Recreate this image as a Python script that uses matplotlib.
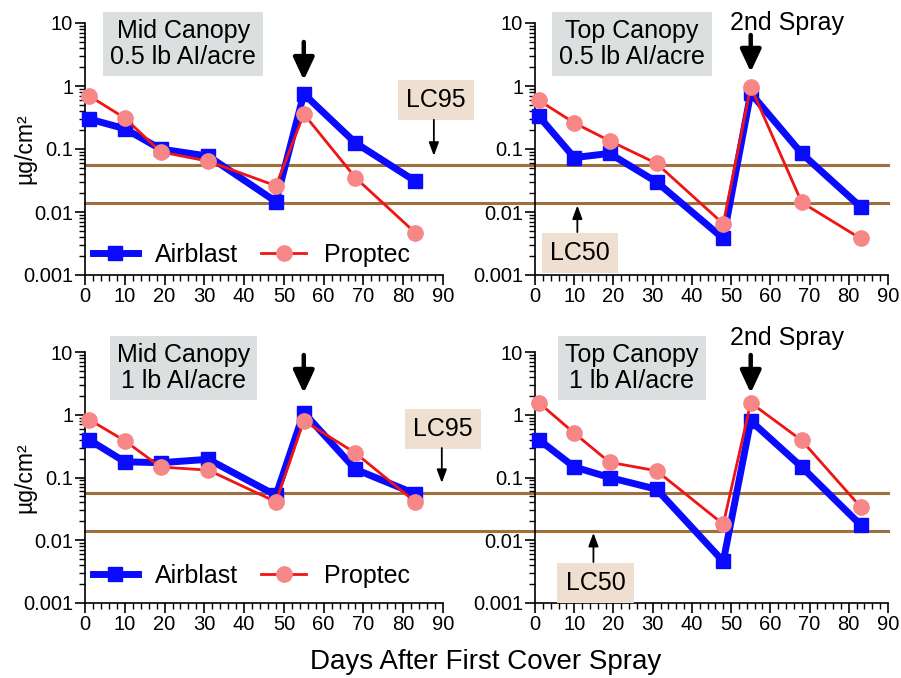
import numpy as np
import matplotlib
matplotlib.use("Agg")
import matplotlib.pyplot as plt
from matplotlib.ticker import FixedLocator, MultipleLocator, LogLocator, NullFormatter

plt.rcParams["font.family"] = ["Liberation Sans", "DejaVu Sans"]

# days after first cover spray
days = [1, 10, 19, 31, 48, 55, 68, 83]

# residues (ug/cm2) per panel
mid_05_airblast = [0.30, 0.21, 0.10, 0.077, 0.0146, 0.75, 0.125, 0.031]
mid_05_proptec = [0.70, 0.31, 0.090, 0.064, 0.026, 0.36, 0.035, 0.0047]
top_05_airblast = [0.33, 0.073, 0.085, 0.030, 0.0038, 0.77, 0.085, 0.0121]
top_05_proptec = [0.59, 0.26, 0.135, 0.059, 0.0065, 0.97, 0.0142, 0.0038]
mid_1_airblast = [0.40, 0.178, 0.172, 0.195, 0.052, 1.08, 0.135, 0.055]
mid_1_proptec = [0.84, 0.385, 0.147, 0.131, 0.041, 0.80, 0.245, 0.041]
top_1_airblast = [0.40, 0.147, 0.100, 0.065, 0.0046, 0.80, 0.147, 0.0176]
top_1_proptec = [1.55, 0.51, 0.175, 0.128, 0.0180, 1.55, 0.39, 0.0340]

lc95 = 0.056
lc50 = 0.0140

panel_titles = ["Mid Canopy\n0.5 lb AI/acre", "Top Canopy\n0.5 lb AI/acre",
                "Mid Canopy\n1 lb AI/acre", "Top Canopy\n1 lb AI/acre"]

blue = "#0a0aff"
red = "#f01414"
salmon = "#f78787"
brown = "#a0703c"
gray_box = "#dcdfdf"
beige_box = "#eedfd0"

fig = plt.figure(figsize=(9.01, 6.78), dpi=100)
W, H = 901, 678


def add_ax(x0, x1, ytop, ybot):
    return fig.add_axes([x0 / W, 1 - ybot / H, (x1 - x0) / W, (ybot - ytop) / H])


ax_tl = add_ax(85, 443, 23, 275)
ax_tr = add_ax(535, 888, 23, 275)
ax_bl = add_ax(85, 443, 352, 603)
ax_br = add_ax(535, 888, 352, 603)
axes = [ax_tl, ax_tr, ax_bl, ax_br]
series = [(mid_05_airblast, mid_05_proptec), (top_05_airblast, top_05_proptec),
          (mid_1_airblast, mid_1_proptec), (top_1_airblast, top_1_proptec)]

for i, (ax, (ab, pt), title) in enumerate(zip(axes, series, panel_titles)):
    ax.set_yscale("log")
    ax.set_xlim(0, 90)
    ax.set_ylim(0.001, 10)
    left = i % 2 == 0
    # LC lines run across the gap to the right panel
    xmax = 1.257 if left else 1.0
    ax.axhline(lc95, xmin=0, xmax=xmax, color=brown, lw=2.2, zorder=1, clip_on=False)
    ax.axhline(lc50, xmin=0, xmax=xmax, color=brown, lw=2.2, zorder=1, clip_on=False)

    ax.plot(days, ab, color=blue, lw=5, marker="s", ms=10, mfc=blue, mec=blue,
            label="Airblast", zorder=3, clip_on=False)
    ax.plot(days, pt, color=red, lw=2, marker="o", ms=11, mfc=salmon, mec=salmon,
            label="Proptec", zorder=4, clip_on=False)

    for s in ["top", "right"]:
        ax.spines[s].set_visible(False)
    for s in ["left", "bottom"]:
        ax.spines[s].set_linewidth(1.2)
    ax.xaxis.set_major_locator(MultipleLocator(10))
    ax.xaxis.set_minor_locator(MultipleLocator(2))
    ax.yaxis.set_major_locator(FixedLocator([0.001, 0.01, 0.1, 1, 10]))
    ax.yaxis.set_minor_locator(LogLocator(base=10, subs=np.arange(2, 10)))
    ax.yaxis.set_minor_formatter(NullFormatter())
    ax.set_yticklabels(["0.001", "0.01", "0.1", "1", "10"])
    ax.tick_params(which="major", direction="out", length=7, width=1.2, labelsize=14.5, pad=1.5)
    ax.tick_params(which="minor", direction="out", length=4, width=1.0)

    ax.text(24.7, 4.6 if i < 2 else 5.5, title, ha="center", va="center", fontsize=18,
            linespacing=1.12,
            bbox=dict(boxstyle="square,pad=0.28", fc=gray_box, ec="none"), zorder=5)

    if left:
        ax.set_ylabel("µg/cm²", fontsize=16.5)
        ax.yaxis.set_label_coords(-0.135, 0.5)
        leg = ax.legend(loc="center left", bbox_to_anchor=(0.022, 0.08 if i == 0 else 0.108),
                        ncol=2, frameon=False, fontsize=18, handlelength=1.8,
                        handletextpad=0.7, columnspacing=0.9, borderpad=0, borderaxespad=0)

# 2nd spray arrows
arrow_kw = dict(arrowstyle="-|>,head_width=0.35,head_length=0.75", color="black", lw=3.2,
                shrinkA=0, shrinkB=0, mutation_scale=18)
ax_tl.annotate("", xy=(55, 1.24), xytext=(55, 5.0), arrowprops=arrow_kw, annotation_clip=False)
ax_tr.annotate("", xy=(55, 1.67), xytext=(55, 6.45), arrowprops=arrow_kw, annotation_clip=False)
ax_tr.text(64.3, 10.0, "2nd Spray", ha="center", va="center", fontsize=18)
ax_bl.annotate("", xy=(55, 2.22), xytext=(55, 8.96), arrowprops=arrow_kw, annotation_clip=False)
ax_br.annotate("", xy=(55, 2.22), xytext=(55, 8.96), arrowprops=arrow_kw, annotation_clip=False)
ax_br.text(64.3, 16.7, "2nd Spray", ha="center", va="center", fontsize=18, clip_on=False)

# LC labels
thin_kw = dict(arrowstyle="-|>,head_width=0.3,head_length=0.8", color="black", lw=1.3,
               shrinkA=0, shrinkB=0, mutation_scale=10)
box_kw = dict(boxstyle="square,pad=0.33", fc=beige_box, ec="none")
ax_tl.text(88.3, 0.6, "LC95", ha="center", va="center", fontsize=18, bbox=box_kw, clip_on=False)
ax_tl.annotate("", xy=(87.7, 0.078), xytext=(87.7, 0.29), arrowprops=thin_kw, annotation_clip=False)
ax_bl.text(90.0, 0.59, "LC95", ha="center", va="center", fontsize=18, bbox=box_kw, clip_on=False)
ax_bl.annotate("", xy=(89.7, 0.082), xytext=(89.7, 0.295), arrowprops=thin_kw, annotation_clip=False)
ax_tr.text(11.4, 0.00225, "LC50", ha="center", va="center", fontsize=18, bbox=box_kw, zorder=6)
ax_tr.annotate("", xy=(10.8, 0.0127), xytext=(10.8, 0.0048), arrowprops=thin_kw, annotation_clip=False)
ax_br.text(15.4, 0.0021, "LC50", ha="center", va="center", fontsize=18, bbox=box_kw, zorder=6)
ax_br.annotate("", xy=(14.9, 0.0131), xytext=(14.9, 0.0045), arrowprops=thin_kw, annotation_clip=False)

fig.text(486 / W, 1 - 662 / H, "Days After First Cover Spray", ha="center", va="center", fontsize=20)

fig.savefig("out.png", dpi=100)
